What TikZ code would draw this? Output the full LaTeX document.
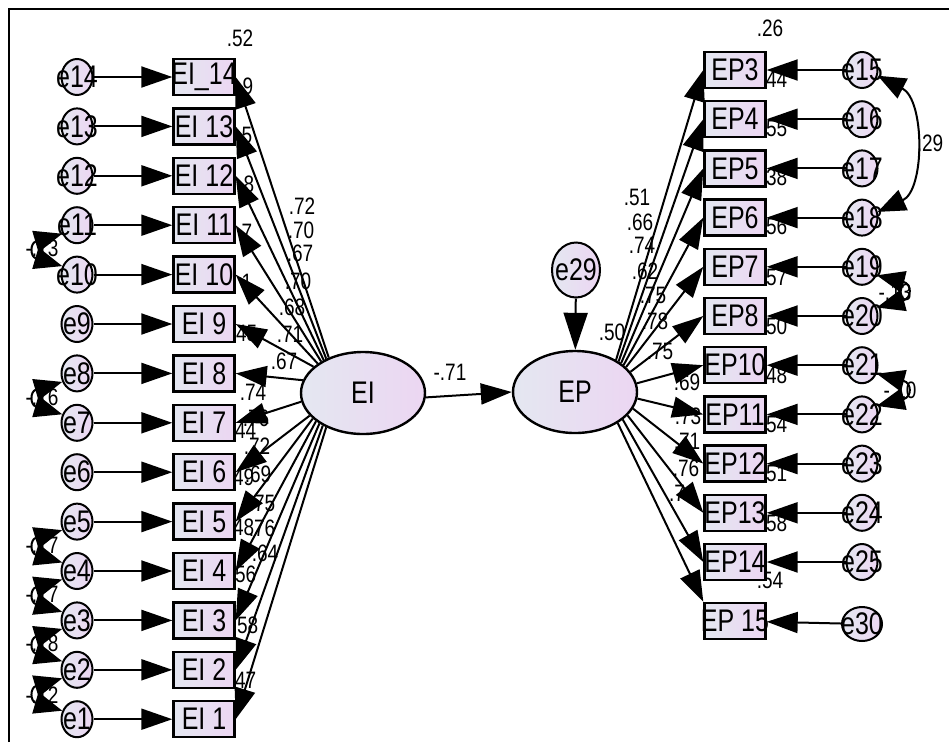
\documentclass[tikz,border=0pt]{standalone}
\usepackage{fontspec}
\setmainfont{Liberation Sans}
\usetikzlibrary{arrows.meta,shapes.geometric}
\definecolor{gl}{RGB}{228,231,241}
\definecolor{gr}{RGB}{236,214,242}
\newcommand\bigf{\fontsize{25}{28}\selectfont}
\newcommand\smf{\fontsize{19}{22}\selectfont}
\newcommand\vs[1]{\scalebox{1}[1.25]{#1}}
\begin{document}
\begin{tikzpicture}[x=1pt,y=-1pt,
  box/.style={draw, line width=2.4pt, rectangle, minimum width=61pt, minimum height=36pt, inner sep=0pt, left color=gl, right color=gr, font=\bigf},
  err/.style={ellipse, draw, line width=2pt, minimum width=31pt, minimum height=36pt, inner sep=0pt, left color=gl, right color=gr, font=\bigf},
  lat/.style={ellipse, draw, line width=2.4pt, minimum width=124pt, minimum height=82pt, inner sep=0pt, left color=gl, right color=gr, font=\bigf},
  num/.style={font=\smf, inner sep=0pt},
  arr/.style={line width=2pt, -{Triangle[length=31pt,width=21pt]}},
  cov/.style={line width=2pt, {Triangle[length=28pt,width=22pt]}-{Triangle[length=28pt,width=22pt]}}]
\useasboundingbox (0,0) rectangle (949,742);
\draw[line width=2pt] (9,742) -- (9,9) -- (949,9);
% labels (drawn first)
\foreach \t/\x/\y [count=\i] in {
  .52/240/38, 9/248/86, 5/247/135, 8/249/184, 7/247/232, 1/247/282, .45/244/333,
  .44/243/430, .49/241/477, .48/241/527, .56/243/574, .58/245/625, .47/243/680,
  .72/302/206, .70/301/230, .67/300/253, .70/298/281, .68/292/307, .71/290/334, .67/284/361,
  .74/253/392, .76/256/418, .72/257/446, .69/258/474, .75/262/503, .76/262/528, .64/265/553,
  .51/637/197, .66/640/222, .74/642/245, .62/645/271, .75/653/295, .78/655/321, .75/660/351,
  .69/687/382, .73/688/416, .71/687/441, .76/686/468, .7/677/493,
  .26/770/28, .44/774/79, .55/774/128, .38/774/177, .56/774/226, .57/774/277, .50/774/326,
  .48/774/375, .54/774/424, .51/774/473, .58/774/523, .54/770/580, .50/612/332,
  -.71/450/372, .29/930/143, -.13/895/292, -.10/900/390,
  -.13/42/248, -.16/42/397, -.17/42/545, -.17/42/594, -.18/42/643, -.12/42/695}
  \node[num] (L\i) at (\x,\y) {\vs{\t}};
% nodes
\foreach \k in {1,...,13}{
  \pgfmathsetmacro\yy{77+(14-\k)*49.4}
  \node[box] (EI\k) at (204,\yy) {\makebox[0pt]{\vs{EI \k}}};
  \node[err] (e\k) at (77,\yy) {\makebox[0pt]{\vs{e\k}}};
}
\node[box] (EI14) at (204,77) {\makebox[0pt]{\vs{EI\_14}}};
\node[err] (e14) at (77,77) {\makebox[0pt]{\vs{e14}}};
\foreach \n/\e [count=\i from 0] in {3/15,4/16,5/17,6/18,7/19,8/20,10/21,11/22,12/23,13/24,14/25}{
  \pgfmathsetmacro\yy{70+\i*49.2}
  \node[box] (EP\n) at (735,\yy) {\makebox[0pt]{\vs{EP\n}}};
  \node[err] (e\e) at (862,\yy) {\makebox[0pt]{\vs{e\e}}};
}
\node[box] (EP15) at (735,621) {\makebox[0pt]{\vs{EP 15}}};
\node[err, minimum width=40pt, minimum height=34pt] (e30) at (862,624) {\makebox[0pt]{\vs{e30}}};
\node[lat] (EI) at (363,393) {\vs{EI}};
\node[lat] (EP) at (575,392) {\vs{EP}};
\node[err, minimum width=48pt, minimum height=55pt] (e29) at (576,270) {\makebox[0pt]{\vs{e29}}};
% arrows
\foreach \k in {1,...,14} \draw[arr] (e\k) -- (EI\k);
\foreach \n/\e in {3/15,4/16,5/17,6/18,7/19,8/20,10/21,11/22,12/23,13/24,14/25} \draw[arr] (e\e) -- (EP\n);
\draw[arr] (e30) -- (EP15);
\foreach \k/\a in {14/134,13/137,12/140,11/143,10/147,9/152,8/168,7/188,6/203,5/207,4/211,3/215,2/219,1/223}
  \draw[arr] (EI.\a) -- (EI\k.east);
\foreach \n/\a in {3/38,4/35,5/32,6/29,7/26,8/20,10/8,11/354,12/344,13/336,14/330}
  \draw[arr] (EP.\a) -- (EP\n.west);
\draw[arr] (EP.324) -- (EP15.north west);
\draw[line width=2pt, -{Triangle[length=37pt,width=24pt]}] (e29) -- (EP);
\draw[arr] (EI.356) -- (EP.west);
% covariances
\draw[cov] (e15.340) .. controls (925,100) and (925,190) .. (e18.20);
\draw[cov] (e19.330) .. controls (912,284) and (912,298) .. (e20.30);
\draw[cov] (e21.330) .. controls (912,383) and (912,397) .. (e22.30);
\foreach \a/\b in {11/10,8/7,5/4,4/3,3/2,2/1}
  \draw[cov] (e\a.210) .. controls (30,{77+(14-\a)*49.4+18}) and (30,{77+(14-\b)*49.4-18}) .. (e\b.150);
\end{tikzpicture}
\end{document}
